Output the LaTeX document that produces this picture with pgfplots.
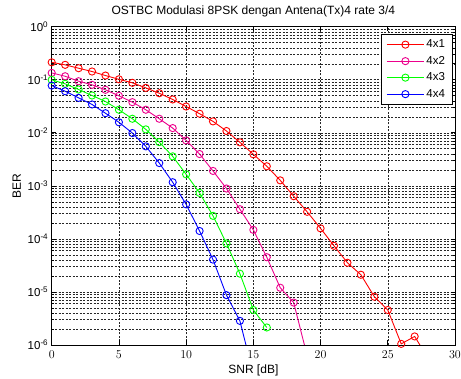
\documentclass[border=0pt]{standalone}
\usepackage{fontspec}
\setmainfont{Liberation Sans}
\usepackage{pgfplots}
\pgfplotsset{compat=1.18}
\usetikzlibrary{calc}
\begin{document}
\begin{tikzpicture}
\begin{axis}[
  name=ax,
  scale only axis,
  width=403.3pt, height=318.3pt,
  ymode=log,
  xmin=0, xmax=30, ymin=1e-6, ymax=1,
  xtick={0,5,10,15,20,25,30},
  ytick={1e-6,1e-5,1e-4,1e-3,1e-2,1e-1,1},
  yticklabels={10\textsuperscript{-6},10\textsuperscript{-5},10\textsuperscript{-4},10\textsuperscript{-3},10\textsuperscript{-2},10\textsuperscript{-1},10\textsuperscript{0}},
  grid=both,
  major grid style={black!85, line width=0.55pt, dash pattern=on 2pt off 1.5pt},
  minor grid style={black!85, line width=0.55pt, dash pattern=on 2pt off 1.5pt},
  tick align=inside,
  major tick length=4.5pt,
  minor tick length=2.5pt,
  every tick/.style={black, line width=0.6pt},
  axis line style={black, line width=0.8pt},
  tick label style={font=\fontsize{11.5}{13}\selectfont},
  xticklabel style={yshift=-2pt},
  label style={font=\fontsize{12}{14}\selectfont},
  title style={font=\fontsize{12}{14}\selectfont},
  title={OSTBC Modulasi 8PSK dengan Antena(Tx)4 rate 3/4},
  xlabel={SNR [dB]},
  ylabel={BER},
  legend style={at={(rel axis cs:1,1)}, anchor=north east, xshift=-2.7pt, yshift=-7.3pt,
    draw=black, line width=0.8pt, fill=white, font=\fontsize{11.5}{13}\selectfont,
    row sep=2pt, inner xsep=5pt, inner ysep=3pt,
    nodes={inner sep=2pt, text height=8.5pt, text depth=2pt}},
  legend cell align=left,
  legend image code/.code={\draw[mark repeat=2,mark phase=2,#1] plot coordinates {(0pt,0pt)(18.5pt,0pt)(37pt,0pt)};},
]
\addplot[red, line width=0.9pt, mark=o, mark size=3.6pt] coordinates {
(0,0.213)(1,0.191)(2,0.165)(3,0.143)(4,0.120)(5,0.102)(6,0.0875)(7,0.0703)(8,0.0557)(9,0.0425)
(10,0.0313)(11,0.0229)(12,0.0164)(13,0.0108)(14,0.00661)(15,0.00393)(16,0.00234)(17,0.00127)
(18,6.38e-4)(19,3.24e-4)(20,1.58e-4)(21,7.41e-5)(22,3.55e-5)(23,2.11e-5)(24,8.13e-6)(25,4.57e-6)
(26,1.05e-6)(27,1.45e-6)(28,5.6e-7)};
\addlegendentry{4x1}
\addplot[magenta, line width=0.9pt, mark=o, mark size=3.6pt] coordinates {
(0,0.1346)(1,0.1164)(2,0.0938)(3,0.0802)(4,0.0646)(5,0.0498)(6,0.0378)(7,0.0272)(8,0.0184)(9,0.01227)
(10,0.00719)(11,0.00398)(12,0.00191)(13,8.91e-4)(14,3.63e-4)(15,1.48e-4)(16,4.52e-5)(17,1.20e-5)
(18,6.31e-6)(19,6.3e-7)};
\addlegendentry{4x2}
\addplot[green, line width=0.9pt, mark=o, mark size=3.6pt] coordinates {
(0,0.0995)(1,0.0838)(2,0.0655)(3,0.0505)(4,0.0389)(5,0.0272)(6,0.0184)(7,0.0116)(8,0.00668)(9,0.00360)
(10,0.00165)(11,7.36e-4)(12,2.72e-4)(13,8.22e-5)(14,2.21e-5)(15,4.57e-6)(16,2.14e-6)};
\addlegendentry{4x3}
\addplot[blue, line width=0.9pt, mark=o, mark size=3.6pt] coordinates {
(0,0.0778)(1,0.0608)(2,0.0456)(3,0.0342)(4,0.0234)(5,0.0158)(6,0.00989)(7,0.00555)(8,0.00269)(9,0.00117)
(10,4.47e-4)(11,1.41e-4)(12,4.07e-5)(13,8.71e-6)(14,2.85e-6)(15,2.8e-7)};
\addlegendentry{4x4}
\end{axis}
\pgfresetboundingbox
\path ($(ax.south west)+(-51.7pt,-34pt)$) rectangle ($(ax.north east)+(6pt,26.7pt)$);
\end{tikzpicture}
\end{document}
